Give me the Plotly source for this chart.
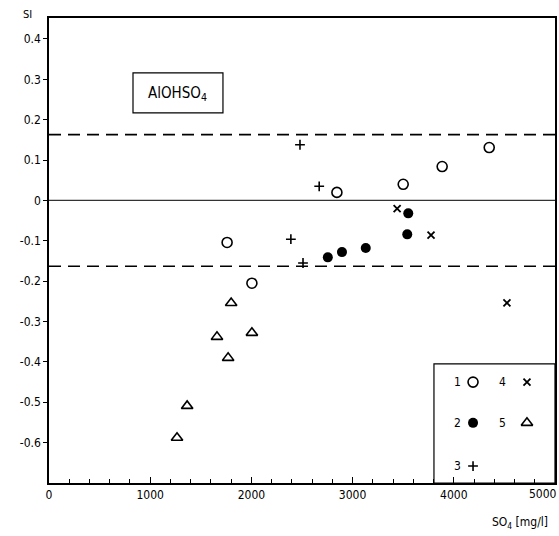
import plotly.graph_objects as go

# Saturation index of AlOHSO4 versus sulphate concentration, five sample groups
so4_g1 = [1760, 2005, 2845, 3500, 3885, 4350]
si_g1 = [-0.104, -0.205, 0.020, 0.040, 0.084, 0.131]

so4_g2 = [2755, 2895, 3130, 3540, 3550]
si_g2 = [-0.141, -0.128, -0.118, -0.084, -0.032]

so4_g3 = [2480, 2670, 2390, 2510]
si_g3 = [0.138, 0.035, -0.096, -0.155]

so4_g4 = [3440, 3775, 4525]
si_g4 = [-0.020, -0.086, -0.254]

so4_g5 = [1800, 1660, 1770, 2005, 1365, 1265]
si_g5 = [-0.254, -0.338, -0.390, -0.328, -0.509, -0.588]

band_limit = 0.163
x_ticks = [0, 1000, 2000, 3000, 4000, 5000]
x_labels = ["0", "1000", "2000", "3000", "4000", "5000"]
y_ticks = [0.4, 0.3, 0.2, 0.1, 0, -0.1, -0.2, -0.3, -0.4, -0.5, -0.6]
y_labels = ["0.4", "0.3", "0.2", "0.1", "0", "-0.1", "-0.2", "-0.3", "-0.4", "-0.5", "-0.6"]

FONT = "DejaVu Sans Condensed, DejaVu Sans, sans-serif"

groups = [
    (so4_g1, si_g1, dict(symbol="circle-open", size=10, color="black", line=dict(width=1.6, color="black"))),
    (so4_g2, si_g2, dict(symbol="circle", size=10, color="black")),
    (so4_g3, si_g3, dict(symbol="cross-thin-open", size=7, color="black", line=dict(width=1.6, color="black"))),
    (so4_g4, si_g4, dict(symbol="x-thin-open", size=7, color="black", line=dict(width=1.8, color="black"))),
    (so4_g5, si_g5, dict(symbol="triangle-up-open", size=10, color="black", line=dict(width=1.6, color="black"))),
]

fig = go.Figure()
for xs, ys, mk in groups:
    fig.add_trace(go.Scatter(x=xs, y=ys, mode="markers", marker=mk,
                             showlegend=False, hoverinfo="skip"))

# Legend key drawn inside the lower-right box
key_rows = [-0.450, -0.551, -0.658]
key_items = [
    ("1", 4032, 4190, key_rows[0], groups[0][2]),
    ("2", 4032, 4190, key_rows[1], groups[1][2]),
    ("3", 4032, 4190, key_rows[2], groups[2][2]),
    ("4", 4486, 4723, key_rows[0], groups[3][2]),
    ("5", 4486, 4723, key_rows[1], groups[4][2]),
]
for label, xl, xm, yk, mk in key_items:
    fig.add_trace(go.Scatter(x=[xm], y=[yk], mode="markers", marker=mk,
                             showlegend=False, hoverinfo="skip"))
    fig.add_annotation(x=xl, y=yk, text=label, showarrow=False,
                       font=dict(family=FONT, size=12, color="black"))

fig.add_shape(type="rect", x0=3804, x1=5000, y0=-0.7, y1=-0.405,
              line=dict(color="black", width=1.2))

# Zero line and the +/- tolerance band
fig.add_shape(type="line", x0=0, x1=5000, y0=0, y1=0, line=dict(color="#333", width=1.3))
for yb in (band_limit, -band_limit):
    fig.add_shape(type="line", x0=0, x1=5000, y0=yb, y1=yb,
                  line=dict(color="black", width=1.6, dash="12px,7px"))

# Mineral name box
fig.add_shape(type="rect", x0=830, x1=1719, y0=0.217, y1=0.316, line=dict(color="black", width=1.2))
fig.add_annotation(x=1274, y=0.266, text="AlOHSO<sub>4</sub>", showarrow=False,
                   font=dict(family=FONT, size=15, color="black"))

# The last x label sits flush with the right edge of the page
fig.add_annotation(x=x_ticks[-1], y=0, yref="paper", text=x_labels[-1], showarrow=False,
                   xanchor="right", yanchor="top", xshift=4, yshift=-2,
                   font=dict(family=FONT, size=12, color="black"))
shown_x_labels = x_labels[:-1] + [""]

# Axis captions
fig.add_annotation(xref="paper", yref="paper", x=-0.042, y=1.007, xanchor="center", yanchor="middle",
                   text="SI", showarrow=False, font=dict(family=FONT, size=11, color="black"))
fig.add_annotation(xref="paper", yref="paper", x=0.99, y=-0.064, xanchor="right", yanchor="top",
                   text="SO<sub>4</sub> [mg/l]", showarrow=False,
                   font=dict(family=FONT, size=12, color="black"))

fig.update_xaxes(range=[0, 5000], tickvals=x_ticks, ticktext=shown_x_labels, ticks="inside",
                 ticklen=6, tickwidth=1.2, tickcolor="black", showgrid=False, zeroline=False,
                 showline=True, linecolor="black", linewidth=2, mirror=True, automargin=False,
                 tickfont=dict(family=FONT, size=12, color="black"),
                 minor=dict(dtick=200, ticks="inside", ticklen=4, tickcolor="black"))
fig.update_yaxes(range=[-0.7, 0.452], tickvals=y_ticks, ticktext=y_labels, ticks="outside",
                 ticklen=4, tickwidth=1.2, tickcolor="black", showgrid=False, zeroline=False,
                 showline=True, linecolor="black", linewidth=1.6, mirror=True, automargin=False,
                 tickfont=dict(family=FONT, size=12, color="black"))

fig.update_layout(width=559, height=536, margin=dict(l=49, r=4, t=18, b=53),
                  plot_bgcolor="white", paper_bgcolor="white")

fig.write_html("out.html")
